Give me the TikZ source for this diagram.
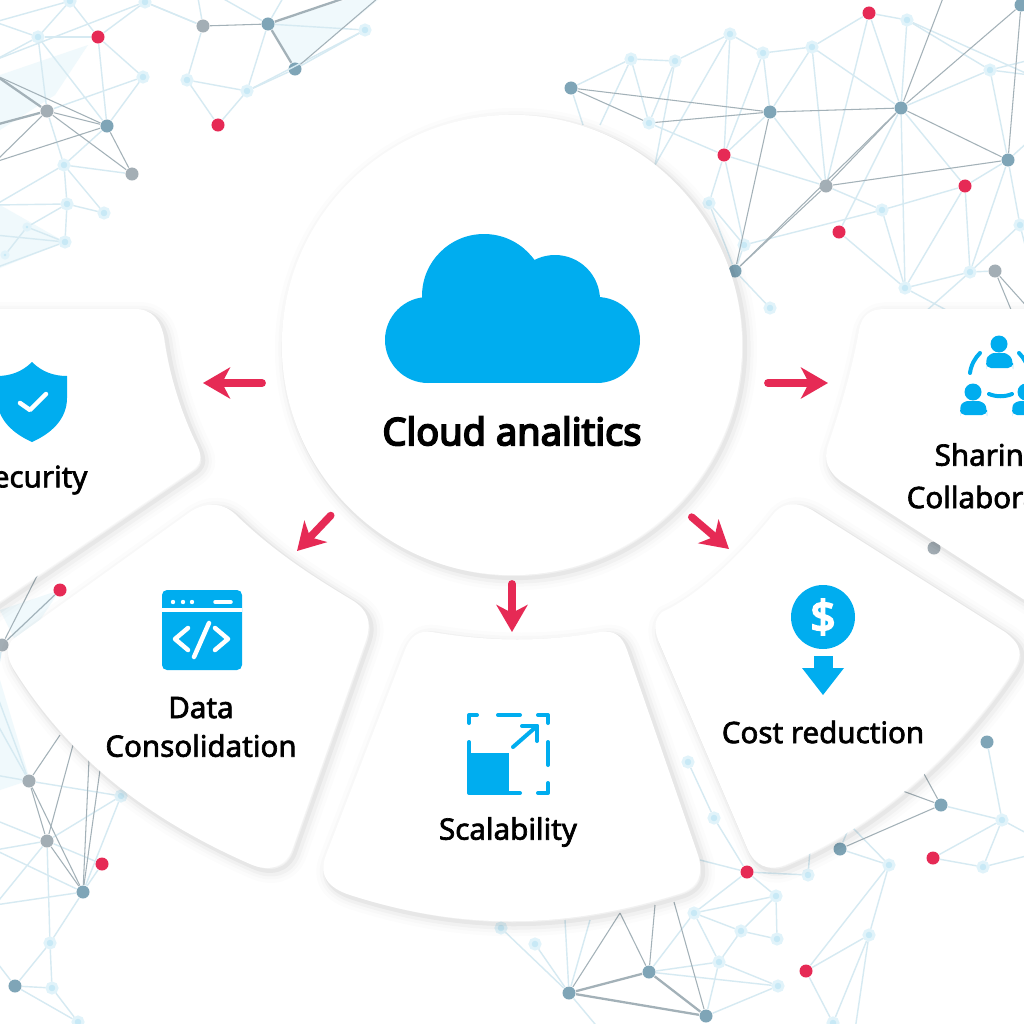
\documentclass[tikz,border=0pt]{standalone}
\usepackage{fontspec}
\setmainfont{Noto Sans}
\newfontfamily\labelfont[FakeBold=2.2]{Noto Sans}
\newfontfamily\titlefont[FakeBold=4.5]{Noto Sans}
\usetikzlibrary{arrows.meta}

\definecolor{cloudblue}{HTML}{00ADEF}
\definecolor{hotred}{HTML}{E62A55}
\definecolor{netdark}{HTML}{7FA5B7}
\definecolor{netgray}{HTML}{A3AEB5}
\definecolor{netpale}{HTML}{C8E9F6}
\definecolor{linkpale}{HTML}{D6EAF2}
\definecolor{linkdark}{HTML}{A3B1B8}
\definecolor{meshfill}{HTML}{F0F9FC}

\tikzstyle{dotred} = [circle, inner sep=0pt, minimum size=0.13cm, fill=hotred]
\tikzstyle{dotdark} = [circle, inner sep=0pt, minimum size=0.13cm, fill=netdark]
\tikzstyle{dotgray} = [circle, inner sep=0pt, minimum size=0.13cm, fill=netgray]
\tikzstyle{dotpale} = [circle, inner sep=0pt, minimum size=0.10cm, fill=netpale, draw=netpale!55, line width=0.03cm]
\tikzstyle{linkthin} = [linkpale, line width=0.4pt]
\tikzstyle{linkbold} = [linkdark, line width=0.3pt]
\tikzstyle{linkheavy} = [linkdark, line width=0.65pt]
\tikzstyle{softcard} = [fill=white, line join=round,
  preaction={draw=black, draw opacity=0.010, line width=0.22cm, transform canvas={xshift=0.04cm, yshift=-0.04cm}},
  preaction={draw=black, draw opacity=0.016, line width=0.15cm, transform canvas={xshift=0.04cm, yshift=-0.04cm}},
  preaction={draw=black, draw opacity=0.026, line width=0.09cm, transform canvas={xshift=0.04cm, yshift=-0.04cm}},
  preaction={draw=black, draw opacity=0.040, line width=0.04cm, transform canvas={xshift=0.03cm, yshift=-0.03cm}}]
\tikzstyle{cardtext} = [font=\labelfont\fontsize{8.4}{11}\selectfont, text=black, align=center]
\tikzstyle{redarrow} = [hotred, line width=0.075cm, line cap=round, -{Stealth[length=0.27cm, width=0.31cm, inset=0.08cm]}]
\tikzstyle{glyphline} = [cloudblue, line width=0.04cm, line cap=round, line join=round]
\tikzstyle{whiteline} = [white, line width=0.045cm, line cap=round, line join=round]

\begin{document}
\begin{tikzpicture}[x=0.01cm, y=-0.01cm]
\useasboundingbox (0,0) rectangle (1024,1024);
\fill [white] (0,0) rectangle (1024,1024);

% faint mesh patches
\fill [meshfill] (268,24) -- (295,69) -- (378,0) -- (345,0) -- cycle;
\fill [meshfill] (0,75) -- (88,45) -- (55,95) -- (0,130) -- cycle;
\fill [meshfill] (0,205) -- (65,242) -- (0,268) -- cycle;
\fill [meshfill] (0,680) -- (30,780) -- (0,790) -- cycle;
\fill [meshfill] (0,610) -- (60,590) -- (20,650) -- cycle;

% top left mesh
\node (la) [dotpale] at (38,37) {};
\node (redA) [dotred] at (98,37) {};
\node (lb) [dotpale] at (143,77) {};
\node (lc) [dotdark] at (107,126) {};
\node (ld) [dotgray] at (47,111) {};
\node (le) [dotgray] at (132,174) {};
\node (lf) [dotpale] at (64,165) {};
\node (lg) [dotpale] at (67,204) {};
\node (lh) [dotpale] at (104,213) {};
\node (li) [dotpale] at (65,242) {};
\node (lj) [dotpale, minimum size=0.06cm] at (27,227) {};
\node (lk) [dotpale, minimum size=0.06cm] at (5,255) {};
\node (lm) [dotpale] at (70,1) {};
\node (ln) [dotpale] at (145,2) {};
\coordinate (o1) at (-5,75);
\coordinate (o2) at (-5,125);
\coordinate (o3) at (-5,162);
\coordinate (o4) at (-5,205);
\coordinate (o5) at (-5,60);
\coordinate (o6) at (-5,22);
\coordinate (o7) at (-5,235);
\coordinate (o8) at (-5,268);

% top middle mesh
\node (ta) [dotgray] at (203,26) {};
\node (tb) [dotdark] at (268,24) {};
\node (tc) [dotdark] at (295,69) {};
\node (td) [dotpale] at (187,80) {};
\node (te) [dotpale] at (247,91) {};
\node (redB) [dotred] at (218,125) {};
\node (tf) [dotpale] at (365,30) {};
\coordinate (t1) at (378,-2);
\coordinate (t2) at (345,-2);
\coordinate (t3) at (198,-2);
\coordinate (t4) at (222,-2);
\coordinate (t5) at (283,-2);

% right mesh
\node (ra) [dotdark] at (571,88) {};
\node (rb) [dotpale] at (631,59) {};
\node (rc) [dotpale] at (675,61) {};
\node (rd) [dotpale] at (730,34) {};
\node (re) [dotpale] at (763,53) {};
\node (rf) [dotpale] at (812,47) {};
\node (redC) [dotred] at (869,13) {};
\node (rg) [dotpale] at (907,20) {};
\node (rh) [dotdark] at (1021,5) {};
\node (ri) [dotpale] at (990,70) {};
\node (rj) [dotdark] at (770,112) {};
\node (rk) [dotdark] at (901,108) {};
\node (rl) [dotpale] at (649,123) {};
\node (redD) [dotred] at (724,155) {};
\node (rm) [dotgray] at (826,186) {};
\node (rn) [dotdark] at (1008,160) {};
\node (redE) [dotred] at (965,186) {};
\node (ro) [dotpale] at (882,210) {};
\node (redF) [dotred] at (839,232) {};
\node (rp) [dotpale] at (709,203) {};
\node (rq) [dotpale] at (744,245) {};
\node (rs) [dotdark] at (735,271) {};
\node (rt) [dotpale] at (770,308) {};
\node (ru) [dotpale] at (905,288) {};
\node (rv) [dotpale] at (970,272) {};
\node (rw) [dotgray] at (995,271) {};
\node (rx) [dotpale] at (1020,225) {};
\coordinate (r1) at (943,-2);
\coordinate (r2) at (1030,75);
\coordinate (r3) at (1030,140);
\coordinate (r4) at (1030,265);
\coordinate (r5) at (1030,310);
\coordinate (r6) at (1030,60);
\coordinate (r7) at (583,125);
\coordinate (r8) at (600,125);
\coordinate (r9) at (655,165);
\coordinate (r10) at (1012,312);
\coordinate (r11) at (950,312);
\coordinate (r12) at (925,312);

% bottom left mesh
\node (redG) [dotred] at (60,590) {};
\node (ba) [dotgray] at (2,645) {};
\node (bb) [dotgray] at (29,781) {};
\node (bc) [dotpale] at (121,796) {};
\node (bd) [dotgray] at (47,841) {};
\node (redH) [dotred] at (102,864) {};
\node (be) [dotdark] at (83,892) {};
\node (bf) [dotpale] at (50,943) {};
\node (bg) [dotdark] at (15,986) {};
\node (bh) [dotpale] at (52,988) {};
\node (bi) [dotpale] at (78,1022) {};
\coordinate (b1) at (73,745);
\coordinate (b2) at (89,760);
\coordinate (b3) at (100,770);
\coordinate (b4) at (60,735);
\coordinate (b5) at (-5,720);
\coordinate (b6) at (-5,775);
\coordinate (b7) at (-5,820);
\coordinate (b8) at (-5,850);
\coordinate (b9) at (-5,905);
\coordinate (b10) at (-5,960);
\coordinate (b11) at (40,570);
\coordinate (b12) at (-5,690);

% bottom right mesh
\node (ca) [dotpale] at (688,762) {};
\node (cb) [dotpale] at (714,818) {};
\node (redI) [dotred] at (747,872) {};
\node (cc) [dotpale] at (776,896) {};
\node (cd) [dotpale] at (694,913) {};
\node (ce) [dotpale] at (741,931) {};
\node (cf) [dotpale] at (777,939) {};
\node (cg) [dotpale] at (719,962) {};
\node (ch) [dotdark] at (649,972) {};
\node (ci) [dotdark] at (569,993) {};
\node (cj) [dotdark] at (706,1016) {};
\node (ck) [dotpale] at (778,986) {};
\node (redJ) [dotred] at (806,971) {};
\node (cl) [dotpale] at (869,935) {};
\node (cm) [dotpale] at (833,1023) {};
\node (cn) [dotpale] at (889,865) {};
\node (co) [dotdark] at (840,849) {};
\node (cp) [dotdark] at (941,805) {};
\node (redK) [dotred] at (933,858) {};
\node (cq) [dotpale] at (1002,820) {};
\node (cr) [dotpale] at (983,867) {};
\node (cs) [dotdark] at (987,742) {};
\node (ct) [dotpale] at (808,875) {};
\node (cu) [dotpale] at (501,928) {};
\node (cv) [dotpale] at (535,944) {};
\node (cw) [dotgray] at (934,548) {};
\coordinate (c1) at (620,913);
\coordinate (c2) at (655,905);
\coordinate (c3) at (674,902);
\coordinate (c4) at (660,1030);
\coordinate (c5) at (855,1030);
\coordinate (c6) at (923,772);
\coordinate (c7) at (900,790);
\coordinate (c8) at (850,825);
\coordinate (c9) at (1030,835);
\coordinate (c10) at (1030,855);
\coordinate (c11) at (565,920);
\coordinate (c12) at (600,1030);
\coordinate (c13) at (700,860);
\coordinate (c14) at (810,850);
\coordinate (c15) at (590,920);

\foreach \a/\b in {la/redA, la/ld, la/lm, la/lc, lm/redA, ln/redA, redA/lb, redA/lc, lb/lc, lb/ld, ld/lf, lf/lg, lf/le, lf/lh, lg/li, lg/lh, li/o7, li/o8, lc/lf, la/o5, la/o6, lm/o6, ln/o5, lg/o4, lf/o4, li/lj, lj/lk, lg/lj,
  ta/td, tb/te, td/te, td/redB, te/redB, tc/te, tc/tf, ta/t3, ta/ln, tb/t4, tb/t5, te/tf, tb/tf, ln/ta,
  ra/rb, rb/rc, rc/rd, rd/re, re/rf, rf/redC, redC/rg, rg/ri, rb/rl, rc/rl, rc/r9, ra/r7, rb/r8, rd/redD, rd/r9, re/redD, re/rj, rf/rj, rf/rm, rf/rk, redC/rk, redC/rm, rg/rk, redD/rj, redD/rm, redD/rl, redD/rp, redD/rq, rj/rm, ri/rk, ri/rn, ri/r6, rk/redE, rk/ru, rk/redF, rm/ro, ro/redE, ro/rq, redF/ru, ro/ru, redE/ru, redE/rv, redE/rn, rn/rx, rn/rv, rv/rw, rv/ru, rv/rx, rn/r3, rs/rt, rs/rq, rp/rq, rp/rs, rg/r2, rx/r4, ri/r2, ru/r11, rv/r12,
  ba/redG, bc/bd, bc/be, bd/redH, redH/be, be/bf, bf/bg, bg/bh, bf/bh, bh/bi, bg/bi, bd/b7, bd/b8, bd/b9, be/b8, be/b9, bb/b5, bb/b6, bd/bf, bg/b10, bb/bc, bb/b12, ba/b12,
  ca/cb, cb/redI, redI/cc, redI/cd, cc/cd, cc/ce, cc/cf, ce/cf, cd/ce, cd/cg, ce/cg, cg/ch, cg/cj, ch/ck, ch/cd, cg/ck, cj/ck, ci/cu, ci/cv, ci/c11, ch/cj, ci/c12, redJ/cl, redJ/cn, redJ/cm, cn/cl, cl/c5, cl/cm, cn/co, co/c8, cp/cq, cq/redK, cq/cr, cr/redK, cq/c9, cr/c10, cs/cq, ct/c14, redI/c13, ct/redI, cn/c8, ci/c15}
  \draw [linkthin] (\a) -- (\b);

\foreach \a/\b in {ld/le, ld/lc, lc/o1, lc/o3, lc/le, ld/o3, tc/t1, ta/tb,
  ra/rj, ra/rl, rl/rj, rj/rk, rj/rs, rm/rs, rk/rs, rk/rm, rm/rn, rk/rn, rk/rh, rk/r1, rn/rh, rw/r5, rw/r10,
  redG/ba, bb/be, bb/bd, bd/be, bd/b1, be/b2, be/b3, bb/b4, ba/b11,
  ch/c1, ci/c1, ch/c2, cj/c3, co/cp, cp/c6, cp/c7}
  \draw [linkbold] (\a) -- (\b);

\foreach \a/\b in {ld/o1, ld/o2, tb/tc, tb/t2, ch/ci, ch/cj, ci/cj}
  \draw [linkheavy] (\a) -- (\b);

% cards
\path [softcard] (-20,309) -- (135,309) .. controls (152,309) and (161,320) .. (164,338) .. controls (169,375) and (182,415) .. (197,445) .. controls (203,458) and (201,465) .. (190,472) -- (-20,615) -- cycle;
\path [softcard] (1040,309) -- (885,309) .. controls (870,309) and (862,315) .. (859,330) .. controls (852,370) and (840,410) .. (828,445) .. controls (823,460) and (828,472) .. (842,482) -- (1040,610) -- cycle;
\path [softcard] (12,640) -- (190,512) .. controls (205,502) and (222,502) .. (235,514) .. controls (270,548) and (305,572) .. (352,600) .. controls (368,610) and (372,622) .. (366,640) -- (292,850) .. controls (285,868) and (268,872) .. (250,864) .. controls (150,820) and (70,760) .. (13,668) .. controls (7,658) and (6,648) .. (12,640) -- cycle;
\path [softcard] (662,612) .. controls (700,595) and (745,550) .. (775,512) .. controls (785,502) and (798,502) .. (812,510) -- (1005,632) .. controls (1022,645) and (1024,655) .. (1012,672) .. controls (960,750) and (880,825) .. (785,865) .. controls (768,872) and (755,865) .. (748,850) -- (658,640) .. controls (654,628) and (654,620) .. (662,612) -- cycle;
\path [softcard] (405,650) .. controls (410,637) and (418,630) .. (432,632) .. controls (490,642) and (545,642) .. (600,632) .. controls (615,630) and (622,636) .. (627,650) -- (698,855) .. controls (705,878) and (695,890) .. (675,895) .. controls (560,930) and (460,930) .. (350,895) .. controls (328,888) and (318,875) .. (326,855) -- cycle;
\node (hub) [circle, inner sep=0pt, minimum size=4.6cm, softcard] at (512,345) {};

% cloud
\fill [cloudblue] (484,296) circle (62) (428,340) circle (43) (597,340) circle (43) (555,300) circle (45);
\fill [cloudblue] (428,320) rectangle (597,383);
\node (title) [font=\titlefont\fontsize{10.8}{12}\selectfont, text=black] at (512,431) {Cloud analitics};

% shield
\fill [cloudblue] (32,362) .. controls (42,372) and (54,376) .. (67,376) -- (67,398) .. controls (67,420) and (50,434) .. (32,442) .. controls (14,434) and (-3,420) .. (-3,398) -- (-3,376) .. controls (10,376) and (22,372) .. (32,362) -- cycle;
\draw [whiteline] (20,403) -- (30,410) -- (46,394);
\node (security) [cardtext] at (32,480) {Security};

% code window
\fill [cloudblue, rounded corners=0.05cm] (162,590) rectangle (242,670);
\draw [white, line width=0.035cm] (162,610) -- (242,610);
\fill [white] (173,602) circle (2.2) (183,602) circle (2.2) (192,602) circle (2.2);
\draw [whiteline, line width=0.035cm] (215,602) -- (231,602);
\draw [whiteline] (188,628) -- (175,639) -- (188,650);
\draw [whiteline] (215,628) -- (228,639) -- (215,650);
\draw [whiteline] (209,623) -- (194,657);
\node (consolidation) [cardtext] at (201,727) {Data\\Consolidation};

% scale icon
\fill [cloudblue] (469,753) rectangle (509,793);
\draw [glyphline] (469,742) -- (469,793) -- (520,793);
\draw [glyphline] (469,723) -- (469,715) -- (477,715);
\draw [glyphline] (498,715) -- (520,715);
\draw [glyphline] (538,715) -- (548,715) -- (548,723);
\draw [glyphline] (548,742) -- (548,765);
\draw [glyphline] (538,793) -- (548,793) -- (548,783);
\draw [glyphline] (513,747) -- (537,726);
\draw [glyphline] (522,726) -- (537,726) -- (537,741);
\node (scalability) [cardtext] at (508,832) {Scalability};

% dollar icon
\fill [cloudblue] (823,617) circle (32);
\node (dollar) [font=\titlefont\fontsize{12.5}{14}\selectfont, text=white] at (823,617) {\$};
\fill [cloudblue] (814,656) rectangle (833,668);
\fill [cloudblue] (802,668) -- (844,668) -- (823,695) -- cycle;
\node (cost) [cardtext] at (823,732) {Cost reduction};

% people icon
\fill [cloudblue] (999,344) circle (8.5) (973,392) circle (8.5) (1026,392) circle (8.5);
\fill [cloudblue, rounded corners=0.05cm] (986,368) -- (986,364) .. controls (987,356) and (992,353) .. (999,353) .. controls (1006,353) and (1011,356) .. (1013,364) -- (1013,368) -- cycle;
\fill [cloudblue, rounded corners=0.05cm] (960,415) -- (960,411) .. controls (961,403) and (966,401) .. (973,401) .. controls (980,401) and (985,403) .. (987,411) -- (987,415) -- cycle;
\fill [cloudblue, rounded corners=0.05cm] (1012,415) -- (1012,411) .. controls (1013,403) and (1018,401) .. (1026,401) .. controls (1033,401) and (1038,403) .. (1040,411) -- (1040,415) -- cycle;
\draw [glyphline] (980,353) .. controls (975,358) and (971,365) .. (970,373);
\draw [glyphline] (1019,353) .. controls (1024,358) and (1028,365) .. (1029,373);
\draw [glyphline] (989,394) .. controls (996,397) and (1005,397) .. (1012,394);
\node (sharing) [cardtext, anchor=west, inner sep=0pt] at (934,458) {Sharing};
\node (collaboration) [cardtext, anchor=west, inner sep=0pt] at (906,497) {Collaboration};

% arrows out of the hub
\coordinate (toSecurity) at (203,383);
\coordinate (toSharing) at (828,383);
\coordinate (toData) at (297,551);
\coordinate (toCost) at (729,549);
\coordinate (toScale) at (512,632);
\draw [redarrow, shorten <=0.19cm] (toSecurity -| hub.west) -- (toSecurity);
\draw [redarrow, shorten <=0.25cm] (toSharing -| hub.east) -- (toSharing);
\draw [redarrow, shorten <=0.18cm] (hub.223.7) -- (toData);
\draw [redarrow, shorten <=0.18cm] (hub.316.5) -- (toCost);
\draw [redarrow, shorten <=0.08cm] (hub.south) -- (toScale);

\end{tikzpicture}
\end{document}
